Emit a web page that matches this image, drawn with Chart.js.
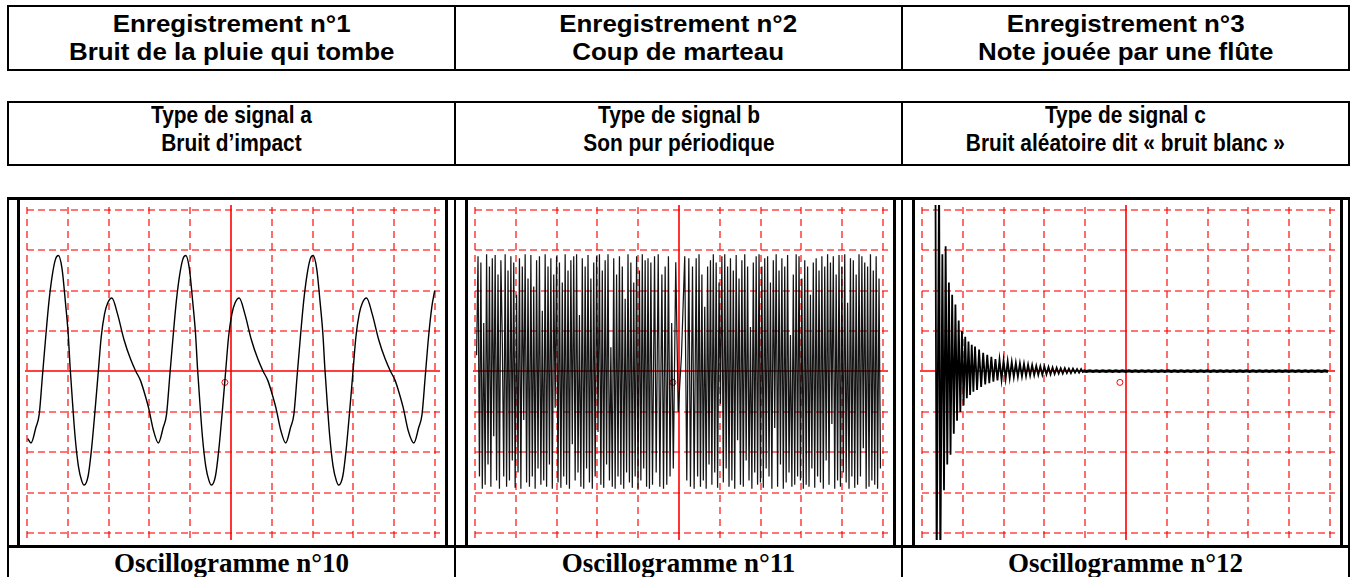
<!DOCTYPE html>
<html>
<head>
<meta charset="utf-8">
<script src="https://cdn.jsdelivr.net/npm/chart.js@4.4.1/dist/chart.umd.min.js"></script>
<style>
  body { margin:0; width:1355px; height:577px; overflow:hidden; background:#fff; position:relative; }
  .tbl { position:absolute; left:7px; width:1343px; box-sizing:border-box; border:2px solid #000; display:flex; }
  .cell { flex:1; border-left:2px solid #000; display:flex; align-items:center; justify-content:center; text-align:center; }
  .cell:first-child { border-left:none; }
  .sans { font-family:"Liberation Sans", Arial, sans-serif; font-weight:bold; font-size:24px; line-height:28px; color:#000; }
  .wide { display:inline-block; transform:scaleX(1.08); white-space:nowrap; }
  .narrow { display:inline-block; transform:scaleX(0.87); white-space:nowrap; margin-bottom:10px; }
  .bottom { top:197px; height:400px; border-top-width:3px; }
  .rowline { position:absolute; left:7px; width:1343px; top:545px; height:3px; background:#000; }
  .plot { position:absolute; top:197px; width:431px; height:351px; box-sizing:border-box; border:3px solid #000; background:#fff; }
  .plot canvas { display:block; }
  .cap { position:absolute; top:548px; height:30px; width:445px; text-align:center;
         font-family:"Liberation Serif", "Times New Roman", serif; font-weight:bold; font-size:27px; line-height:30px; }
</style>
</head>
<body>

<div class="tbl sans" style="top:5px;height:66px;">
  <div class="cell"><span class="wide">Enregistrement n°1<br>Bruit de la pluie qui tombe</span></div>
  <div class="cell"><span class="wide">Enregistrement n°2<br>Coup de marteau</span></div>
  <div class="cell"><span class="wide">Enregistrement n°3<br>Note jouée par une flûte</span></div>
</div>

<div class="tbl sans" style="top:101px;height:65px;">
  <div class="cell"><span class="narrow">Type de signal a<br>Bruit d’impact</span></div>
  <div class="cell"><span class="narrow">Type de signal b<br>Son pur périodique</span></div>
  <div class="cell"><span class="narrow">Type de signal c<br>Bruit aléatoire dit «&nbsp;bruit blanc&nbsp;»</span></div>
</div>

<div class="tbl bottom">
  <div class="cell"></div>
  <div class="cell"></div>
  <div class="cell"></div>
</div>
<div class="rowline"></div>

<div class="plot" style="left:17px;"><canvas id="osc10" width="425" height="345"></canvas></div>
<div class="plot" style="left:465px;"><canvas id="osc11" width="425" height="345"></canvas></div>
<div class="plot" style="left:912px;"><canvas id="osc12" width="425" height="345"></canvas></div>

<div class="cap" style="left:9px;">Oscillogramme n°10</div>
<div class="cap" style="left:456px;">Oscillogramme n°11</div>
<div class="cap" style="left:903px;">Oscillogramme n°12</div>

<script>
// ---------------- Screen grid (divisions) ----------------------------------
const GRID_X = [ 0, 1, 2, 3, 4, 5, 6, 7, 8, 9, 10 ] ;
const GRID_Y = [ -4, -3, -2, -1, 0, 1, 2, 3, 4 ] ;
const CENTER_X = 5 ;
const CENTER_Y = 0 ;

const GRID_COLOR   = 'rgba(255,0,0,0.72)' ;
const AXIS_COLOR   = 'rgb(255,0,0)' ;
const TRACE_COLOR  = 'rgb(0,0,0)' ;

// origin marker of the scope
const originMark = [ { x: 4.85, y: -0.27 } ] ;

// ---------------- Oscillogramme n°10 (flûte) -------------------------------
const osc10T = [
  0.02, 0.10, 0.22, 0.30, 0.38, 0.46, 0.54, 0.62, 0.70, 0.77, 0.86, 0.94, 1.01, 1.06, 1.12, 1.18,
  1.26, 1.34, 1.40, 1.50, 1.58, 1.66, 1.74, 1.82, 1.90, 1.98, 2.08, 2.22, 2.38, 2.54, 2.66, 2.78,
  2.87, 2.98, 3.10, 3.22,
  3.34, 3.42, 3.50, 3.58, 3.66, 3.74, 3.82, 3.89, 3.98, 4.06, 4.13, 4.18, 4.24, 4.30, 4.38, 4.46,
  4.52, 4.62, 4.70, 4.78, 4.86, 4.94, 5.02, 5.10, 5.20, 5.34, 5.50, 5.66, 5.78, 5.90, 5.99, 6.10,
  6.22, 6.34,
  6.46, 6.54, 6.62, 6.70, 6.78, 6.86, 6.94, 7.01, 7.10, 7.18, 7.25, 7.30, 7.36, 7.42, 7.50, 7.58,
  7.64, 7.74, 7.82, 7.90, 7.98, 8.06, 8.14, 8.22, 8.32, 8.46, 8.62, 8.78, 8.90, 9.02, 9.11, 9.22,
  9.34, 9.48, 9.60, 9.68, 9.76, 9.84, 9.92, 9.99
] ;
const osc10V = [
  -1.66, -1.77, -1.38, -1.06, -0.10, 0.86, 1.74, 2.38, 2.78, 2.87, 2.54, 1.74, 0.94, 0.06, -0.82, -1.62,
  -2.34, -2.70, -2.81, -2.58, -1.94, -1.06, -0.10, 0.86, 1.42, 1.70, 1.82, 1.42, 0.78, 0.30, 0.02, -0.22,
  -0.50, -0.90, -1.46, -1.77,
  -1.38, -1.06, -0.10, 0.86, 1.74, 2.38, 2.78, 2.87, 2.54, 1.74, 0.94, 0.06, -0.82, -1.62, -2.34, -2.70,
  -2.81, -2.58, -1.94, -1.06, -0.10, 0.86, 1.42, 1.70, 1.82, 1.42, 0.78, 0.30, 0.02, -0.22, -0.50, -0.90,
  -1.46, -1.77,
  -1.38, -1.06, -0.10, 0.86, 1.74, 2.38, 2.78, 2.87, 2.54, 1.74, 0.94, 0.06, -0.82, -1.62, -2.34, -2.70,
  -2.81, -2.58, -1.94, -1.06, -0.10, 0.86, 1.42, 1.70, 1.82, 1.42, 0.78, 0.30, 0.02, -0.22, -0.50, -0.90,
  -1.46, -1.77, -1.38, -1.06, -0.10, 0.86, 1.60, 2.00
] ;

// ---------------- Oscillogramme n°11 (bruit blanc) -------------------------
const OSC11_DT = 0.035 ;     // sample interval in divisions
const osc11LeftStart = 0.04 ;
const osc11Left = [
  0.4, 2.85, -2.6, 2.7, -2.9, 1.2, -2.8, 2.9, -2.3, 2.6,
  -2.85, 2.8, -1.6, 2.88, -2.7, 2.4, -2.9, 2.75, 0.8, -2.6,
  2.9, -2.85, 2.5, -2.7, 2.85, -2.2, 2.7, -2.88, 1.9, -2.5,
  2.8, -2.9, 2.6, -1.2, 2.9, -2.75, 2.3, -2.85, 2.88, -2.6,
  2.1, -2.9, 2.75, -2.4, 2.85, -2.8, 1.5, -2.7, 2.9, -2.85,
  2.6, -2.3, 2.8, -2.9, 2.4, -0.9, 2.85, -2.75, 2.7, -2.88,
  2.2, -2.6, 2.9, -2.8, 2.5, -2.9, 2.75, -1.8, 2.85, -2.7,
  2.9, -2.5, 1.4, -2.85, 2.8, -2.9, 2.6, -2.4, 2.88, -2.75,
  2.3, -2.9, 2.7, -2.6, 2.85, -1.5, 2.9, -2.8, 2.5, -2.88,
  2.75, -2.3, 2.9, -2.7, 0.6, -2.85, 2.8, -2.9, 2.4, -2.6,
  2.85, -2.8, 2.6, -2.9, 1.8, -2.5, 2.9, -2.75, 2.7, -2.88,
  2.2, -2.6, 2.85, -2.9, 2.5, -2.7, 2.9, -2.4, 2.75, -2.85,
  2.8, -2.9
] ;
const osc11MidT = [ 4.31, 4.35, 4.40, 4.44, 4.49, 4.53, 4.58, 4.62, 4.66, 4.70, 4.74, 4.78,
                    4.82, 4.86, 4.92, 4.98, 5.06, 5.14, 5.19, 5.24, 5.28, 5.33, 5.37 ] ;
const osc11MidV = [ 2.7, -2.8, 2.85, -2.5, 2.9, -2.85, 2.4, -2.9, 2.6, -2.8, 2.85, -2.6,
                    1.2, -2.4, 2.7, -1.0, 0.4, 2.85, -2.7, 2.8, -2.85, 2.6, -2.9 ] ;
const osc11RightStart = 5.42 ;
const osc11Right = [
  2.8, -2.6, 2.9, -2.85, 2.4, -2.7, 1.6, -2.9, 2.6, -2.3,
  2.75, -2.8, 2.9, -2.5, 2.7, -2.88, 2.2, -0.8, 2.85, -2.75,
  2.9, -2.4, 2.6, -2.85, 2.8, -2.7, 2.5, -2.9, 2.88, -1.7,
  2.3, -2.8, 2.75, -2.85, 2.9, -2.2, 2.6, -2.7, 1.1, -2.9,
  2.7, -2.5, 2.85, -2.8, 2.9, -2.75, 2.6, -2.88, 2.8, -2.4,
  2.85, -2.6, 2.2, -2.9, 2.75, -1.4, 2.9, -2.85, 2.5, -2.3,
  2.8, -2.9, 2.6, -2.75, 2.88, -2.5, 0.9, -2.85, 2.4, -2.8,
  2.9, -2.6, 2.85, -2.7, 2.3, -2.9, 2.75, -2.8, 2.6, -2.85,
  1.9, -2.4, 2.7, -2.88, 2.8, -2.6, 2.5, -2.75, 2.85, -2.9,
  2.6, -2.2, 2.9, -2.8, 2.7, -1.3, 2.85, -2.9, 2.4, -2.7,
  2.88, -2.85, 2.6, -2.5, 2.9, -2.75, 1.7, -2.9, 2.8, -2.6,
  2.75, -2.88, 2.4, -2.8, 2.9, -2.6, 2.85, -1.9, 2.7, -2.9,
  2.6, -2.85, 2.9, -2.7, 2.5, -2.8, 2.85, -2.9, 2.3, -2.4
] ;

// ---------------- Oscillogramme n°12 (coup de marteau) ---------------------
const osc12HeadT = [ 0.33, 0.36, 0.42, 0.45, 0.50, 0.54, 0.58, 0.62, 0.66, 0.70, 0.74, 0.78, 0.82,
                     0.86, 0.90, 0.94, 0.98, 1.02, 1.06, 1.10, 1.14, 1.18, 1.22, 1.26, 1.30 ] ;
const osc12HeadV = [ 5.0, -5.0, 5.0, -5.0, 2.9, -2.94, 3.1, -2.3, 2.2, -2.06, 1.9, -1.54, 1.66,
                     -1.22, 1.26, -1.0, 1.0, -0.84, 0.86, -0.66, 0.74, -0.58, 0.66, -0.5, 0.62 ] ;
const OSC12_DT = 0.05 ;
const osc12BodyStart = 1.35 ;
const osc12Body = [
  -0.46, 0.54, -0.38, 0.46, -0.32, 0.41, -0.29, 0.36, -0.25, 0.31,
  -0.22, 0.29, -0.20, 0.27, -0.18, 0.25, -0.16, 0.23, -0.14, 0.21,
  -0.13, 0.20, -0.12, 0.19, -0.11, 0.17, -0.10, 0.16, -0.09, 0.14,
  -0.08, 0.13, -0.08, 0.12, -0.07, 0.11, -0.07, 0.10, -0.06, 0.09,
  -0.05, 0.08, -0.05, 0.08, -0.04, 0.07, -0.04, 0.07, -0.03, 0.06,
  -0.03, 0.06, -0.03
] ;
// flat, thick residual trace once the oscillation has died out
const osc12TailStart = 3.95 ;
const OSC12_TAIL_DT = 0.08 ;
const osc12Tail = [
  0.02, 0.00, 0.02, 0.00, 0.02, 0.00, 0.02, 0.00, 0.02, 0.00,
  0.02, 0.00, 0.02, 0.00, 0.02, 0.00, 0.02, 0.00, 0.02, 0.00,
  0.02, 0.00, 0.02, 0.00, 0.02, 0.00, 0.02, 0.00, 0.02, 0.00,
  0.02, 0.00, 0.02, 0.00, 0.02, 0.00, 0.02, 0.00, 0.02, 0.00,
  0.02, 0.00, 0.02, 0.00, 0.02, 0.00, 0.02, 0.00, 0.02, 0.00,
  0.02, 0.00, 0.02, 0.00, 0.02, 0.00, 0.02, 0.00, 0.02, 0.00,
  0.02, 0.00, 0.02, 0.00, 0.02, 0.00, 0.02, 0.00, 0.02, 0.00,
  0.02, 0.00, 0.02, 0.00, 0.02, 0.00
] ;

// ---------------------------------------------------------------------------

function pairs( tList, vList ) {
    return tList.map( function( t, i ) { return { x: t, y: vList[i] } ; } ) ;
}

function sampled( start, dt, vList ) {
    return vList.map( function( v, i ) { return { x: +( start + i * dt ).toFixed( 3 ), y: v } ; } ) ;
}

function strokeLine( ctx, x1, y1, x2, y2 ) {
    ctx.beginPath() ;
    ctx.moveTo( x1, y1 ) ;
    ctx.lineTo( x2, y2 ) ;
    ctx.stroke() ;
}

// dashed red graticule + solid red centre axes, placed through the chart scales
const scopeGrid = {
    id: 'scopeGrid',
    beforeDatasetsDraw: function( chart ) {
        const ctx  = chart.ctx ;
        const area = chart.chartArea ;
        const xs   = chart.scales.x ;
        const ys   = chart.scales.y ;

        ctx.save() ;
        ctx.lineCap = 'butt' ;
        ctx.lineWidth = 1.6 ;

        ctx.strokeStyle = GRID_COLOR ;
        ctx.setLineDash( [ 7, 5 ] ) ;
        GRID_X.forEach( function( v ) {
            if( v === CENTER_X ) { return ; }
            const px = Math.round( xs.getPixelForValue( v ) ) ;
            strokeLine( ctx, px, area.top + 2, px, area.bottom ) ;
        } ) ;
        ctx.setLineDash( [ 7, 4 ] ) ;
        GRID_Y.forEach( function( v ) {
            if( v === CENTER_Y ) { return ; }
            const py = Math.round( ys.getPixelForValue( v ) ) ;
            strokeLine( ctx, area.left + 2, py, area.right, py ) ;
        } ) ;

        ctx.setLineDash( [] ) ;
        ctx.strokeStyle = AXIS_COLOR ;
        const cx = Math.round( xs.getPixelForValue( CENTER_X ) ) ;
        const cy = Math.round( ys.getPixelForValue( CENTER_Y ) ) ;
        strokeLine( ctx, cx, area.top, cx, area.bottom ) ;
        strokeLine( ctx, area.left, cy, area.right, cy ) ;
        ctx.restore() ;
    }
} ;

function traceDataset( points, width, tension, color ) {
    return {
        data             : points,
        borderColor      : color,
        backgroundColor  : color,
        borderWidth      : width,
        pointRadius      : 0,
        tension          : tension,
        cubicInterpolationMode : tension > 0 ? 'monotone' : 'default',
        fill             : false,
    } ;
}

function drawScope( canvasId, traces ) {
    const datasets = traces.slice() ;
    datasets.push( {
        type             : 'scatter',
        data             : originMark.slice(),
        borderColor      : AXIS_COLOR,
        backgroundColor  : 'rgba(0,0,0,0)',
        borderWidth      : 1,
        pointRadius      : 3,
        pointStyle       : 'circle',
    } ) ;

    const options = {
        responsive          : false,
        animation           : false,
        devicePixelRatio    : 1,
        layout              : { padding: 0 },
        plugins : {
            legend  : { display: false },
            tooltip : { enabled: false },
        },
        scales : {
            x : {
                type     : 'linear',
                min      : -0.048,
                max      : 10.12,
                afterFit : function( s ) { s.height = 0 ; },
                ticks    : { display: false },
                grid     : { display: false },
                border   : { display: false },
            },
            y : {
                type     : 'linear',
                min      : -4.17,
                max      : 4.12,
                afterFit : function( s ) { s.width = 0 ; },
                ticks    : { display: false },
                grid     : { display: false },
                border   : { display: false },
            }
        }
    } ;

    return new Chart( document.getElementById( canvasId ), {
        type    : 'line',
        data    : { datasets: datasets },
        options : options,
        plugins : [ scopeGrid ]
    } ) ;
}

drawScope( 'osc10', [ traceDataset( pairs( osc10T, osc10V ), 1.4, 0.4, TRACE_COLOR ) ] ) ;

drawScope( 'osc11', [
    traceDataset( sampled( osc11LeftStart, OSC11_DT, osc11Left )
                      .concat( pairs( osc11MidT, osc11MidV ) )
                      .concat( sampled( osc11RightStart, OSC11_DT, osc11Right ) ),
                  1.25, 0, 'rgba(0,0,0,0.92)' )
] ) ;

drawScope( 'osc12', [
    traceDataset( pairs( osc12HeadT, osc12HeadV )
                      .concat( sampled( osc12BodyStart, OSC12_DT, osc12Body ) ),
                  1.8, 0, TRACE_COLOR ),
    traceDataset( sampled( osc12TailStart, OSC12_TAIL_DT, osc12Tail ), 3, 0, TRACE_COLOR )
] ) ;
</script>
</body>
</html>
